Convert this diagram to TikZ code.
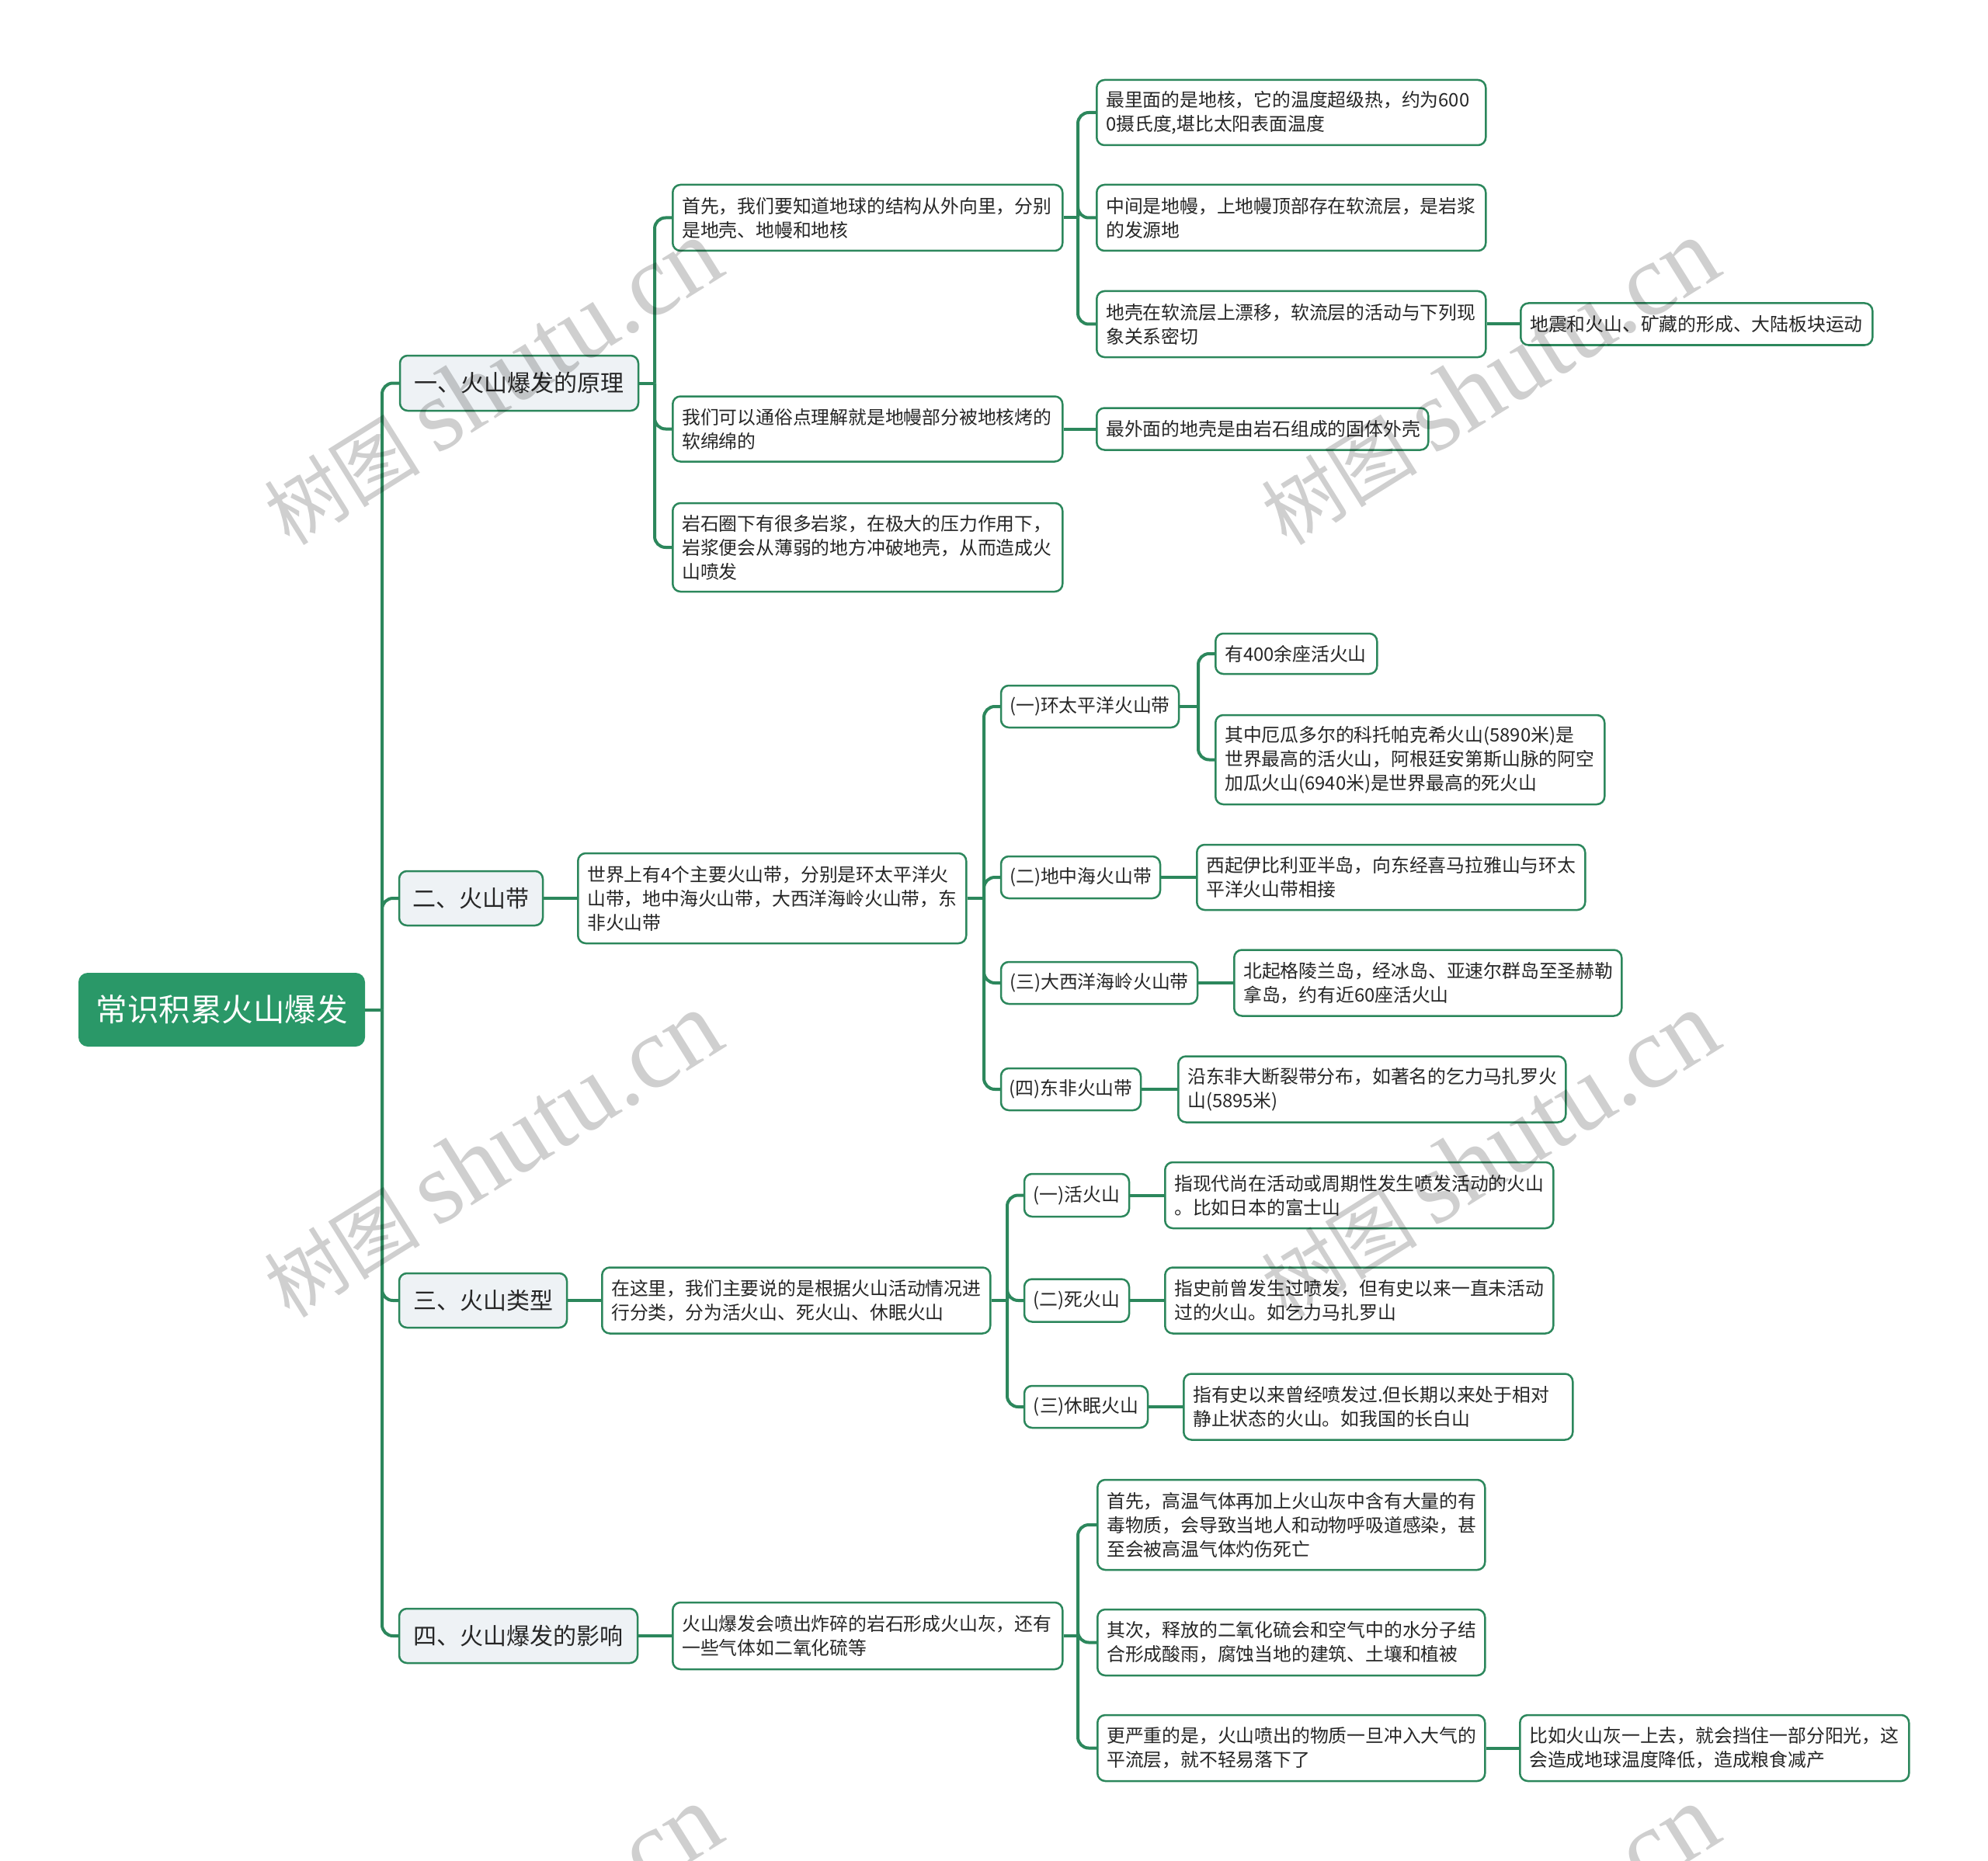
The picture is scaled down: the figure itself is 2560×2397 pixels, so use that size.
\documentclass[tikz,border=0pt]{standalone}
\usepackage{fontspec}
\setmainfont{Noto Sans CJK SC}
\newfontfamily\wmserif{Liberation Serif}
\definecolor{rootgreen}{RGB}{42,152,104}
\definecolor{linegreen}{RGB}{44,135,92}
\definecolor{topicfill}{RGB}{238,242,245}
\definecolor{txt}{RGB}{38,38,38}
\begin{document}
\begin{tikzpicture}[x=1pt,y=-1pt,
  rootbox/.style={rounded corners=12pt, fill=rootgreen, draw=none, text=white,
    font=\fontsize{40.5}{48}\selectfont, align=center, inner sep=0pt,
    minimum width=369pt, minimum height=95pt},
  topic/.style={rounded corners=10pt, fill=topicfill, draw=linegreen, line width=2.5pt,
    text=txt, font=\fontsize{30}{36}\selectfont, inner sep=0pt, align=center, minimum height=70pt},
  leaf/.style={rounded corners=10pt, fill=white, draw=linegreen, line width=2.5pt,
    text=txt, font=\fontsize{23.8}{31}\selectfont, inner xsep=12pt, inner ysep=0pt,
    align=left, anchor=west},
  tag/.style={rounded corners=10pt, fill=white, draw=linegreen, line width=2.5pt,
    text=txt, font=\fontsize{23.8}{31}\selectfont, inner sep=0pt, align=center,
    minimum height=54pt},
  link/.style={draw=linegreen, line width=4pt, rounded corners=14pt},
  wm/.style={text=black, text opacity=0.19, anchor=base west, rotate=32, inner sep=0pt}
]
\useasboundingbox (0,0) rectangle (2560,2397);

% root and topics
\node[rootbox] (root) at (285.5,1300.5) {常识积累火山爆发};
\node[topic, minimum width=307pt, minimum height=71pt] (b1) at (668.5,493.5) {一、火山爆发的原理};
\node[topic, minimum width=185pt] (b2) at (606.5,1157) {二、火山带};
\node[topic, minimum width=216pt] (b3) at (622,1675) {三、火山类型};
\node[topic, minimum width=307pt] (b4) at (667.5,2107) {四、火山爆发的影响};

% branch 1
\node[leaf, text width=478pt, minimum height=85pt] (n1a) at (865,280.5) {首先，我们要知道地球的结构从外向里，分别\\是地壳、地幔和地核};
\node[leaf, text width=478pt, minimum height=84pt] (n1b) at (865,552.5) {我们可以通俗点理解就是地幔部分被地核烤的\\软绵绵的};
\node[leaf, text width=478pt, minimum height=114pt] (n1c) at (865,705) {岩石圈下有很多岩浆，在极大的压力作用下，\\岩浆便会从薄弱的地方冲破地壳，从而造成火\\山喷发};
\node[leaf, text width=477pt, minimum height=84pt] (n1a1) at (1411,145) {最里面的是地核，它的温度超级热，约为600\\0摄氏度,堪比太阳表面温度};
\node[leaf, text width=477pt, minimum height=85pt] (n1a2) at (1411,280.5) {中间是地幔，上地幔顶部存在软流层，是岩浆\\的发源地};
\node[leaf, text width=477pt, minimum height=85pt] (n1a3) at (1411,417.5) {地壳在软流层上漂移，软流层的活动与下列现\\象关系密切};
\node[leaf, text width=429pt, minimum height=54pt] (n1a3x) at (1957,417.5) {地震和火山、矿藏的形成、大陆板块运动};
\node[leaf, text width=403pt, minimum height=54pt] (n1b1) at (1411,552.5) {最外面的地壳是由岩石组成的固体外壳};

% branch 2
\node[leaf, text width=476pt, minimum height=116pt] (n2) at (743,1157) {世界上有4个主要火山带，分别是环太平洋火\\山带，地中海火山带，大西洋海岭火山带，东\\非火山带};
\node[tag, minimum width=229pt] (n2a) at (1403.5,910) {(一)环太平洋火山带};
\node[leaf, text width=184pt, minimum height=52pt] (n2a1) at (1564,842) {有400余座活火山};
\node[leaf, text width=477pt, minimum height=115pt] (n2a2) at (1564,978.5) {其中厄瓜多尔的科托帕克希火山(5890米)是\\世界最高的活火山，阿根廷安第斯山脉的阿空\\加瓜火山(6940米)是世界最高的死火山};
\node[tag, minimum width=205pt] (n2b) at (1391.5,1130) {(二)地中海火山带};
\node[leaf, text width=476pt, minimum height=84pt] (n2b1) at (1540,1130) {西起伊比利亚半岛，向东经喜马拉雅山与环太\\平洋火山带相接};
\node[tag, minimum width=253pt] (n2c) at (1415.5,1266) {(三)大西洋海岭火山带};
\node[leaf, text width=475pt, minimum height=85pt] (n2c1) at (1588,1266) {北起格陵兰岛，经冰岛、亚速尔群岛至圣赫勒\\拿岛，约有近60座活火山};
\node[tag, minimum width=180pt] (n2d) at (1379,1403) {(四)东非火山带};
\node[leaf, text width=475pt, minimum height=85pt] (n2d1) at (1516,1403) {沿东非大断裂带分布，如著名的乞力马扎罗火\\山(5895米)};

% branch 3
\node[leaf, text width=476pt, minimum height=85pt] (n3) at (774,1675) {在这里，我们主要说的是根据火山活动情况进\\行分类，分为活火山、死火山、休眠火山};
\node[tag, minimum width=135pt, minimum height=55pt] (n3a) at (1386.5,1539.5) {(一)活火山};
\node[leaf, text width=476pt, minimum height=85pt] (n3a1) at (1499,1539.5) {指现代尚在活动或周期性发生喷发活动的火山\\。比如日本的富士山};
\node[tag, minimum width=135pt, minimum height=55pt] (n3b) at (1386.5,1675) {(二)死火山};
\node[leaf, text width=476pt, minimum height=85pt] (n3b1) at (1499,1675) {指史前曾发生过喷发，但有史以来一直未活动\\过的火山。如乞力马扎罗山};
\node[tag, minimum width=159pt] (n3c) at (1398.5,1812) {(三)休眠火山};
\node[leaf, text width=477pt, minimum height=85pt] (n3c1) at (1523,1812) {指有史以来曾经喷发过.但长期以来处于相对\\静止状态的火山。如我国的长白山};

% branch 4
\node[leaf, text width=478pt, minimum height=86pt] (n4) at (865,2107) {火山爆发会喷出炸碎的岩石形成火山灰，还有\\一些气体如二氧化硫等};
\node[leaf, text width=475pt, minimum height=116pt] (n4a) at (1412,1964) {首先，高温气体再加上火山灰中含有大量的有\\毒物质，会导致当地人和动物呼吸道感染，甚\\至会被高温气体灼伤死亡};
\node[leaf, text width=475pt, minimum height=85pt] (n4b) at (1412,2115.5) {其次，释放的二氧化硫会和空气中的水分子结\\合形成酸雨，腐蚀当地的建筑、土壤和植被};
\node[leaf, text width=475pt, minimum height=85pt] (n4c) at (1412,2251.5) {更严重的是，火山喷出的物质一旦冲入大气的\\平流层，就不轻易落下了};
\node[leaf, text width=477pt, minimum height=85pt] (n4c1) at (1956,2251.5) {比如火山灰一上去，就会挡住一部分阳光，这\\会造成地球温度降低，造成粮食减产};

% connectors
\draw[link] (root.east) -- (492,1300.5);
\foreach \c in {b1,b2,b3,b4} \draw[link] (492,1300.5) |- (\c.west);

\draw[link] (b1.east) -- (843,493.5);
\foreach \c in {n1a,n1b,n1c} \draw[link] (843,493.5) |- (\c.west);
\draw[link] (n1a.east) -- (1388,280.5);
\foreach \c in {n1a1,n1a2,n1a3} \draw[link] (1388,280.5) |- (\c.west);
\draw[link] (n1a3.east) -- (n1a3x.west);
\draw[link] (n1b.east) -- (n1b1.west);

\draw[link] (b2.east) -- (n2.west);
\draw[link] (n2.east) -- (1267,1157);
\foreach \c in {n2a,n2b,n2c,n2d} \draw[link] (1267,1157) |- (\c.west);
\draw[link] (n2a.east) -- (1543,910);
\foreach \c in {n2a1,n2a2} \draw[link] (1543,910) |- (\c.west);
\draw[link] (n2b.east) -- (n2b1.west);
\draw[link] (n2c.east) -- (n2c1.west);
\draw[link] (n2d.east) -- (n2d1.west);

\draw[link] (b3.east) -- (n3.west);
\draw[link] (n3.east) -- (1297,1675);
\foreach \c in {n3a,n3b,n3c} \draw[link] (1297,1675) |- (\c.west);
\draw[link] (n3a.east) -- (n3a1.west);
\draw[link] (n3b.east) -- (n3b1.west);
\draw[link] (n3c.east) -- (n3c1.west);

\draw[link] (b4.east) -- (n4.west);
\draw[link] (n4.east) -- (1388,2107);
\foreach \c in {n4a,n4b,n4c} \draw[link] (1388,2107) |- (\c.west);
\draw[link] (n4c.east) -- (n4c1.west);

% watermark
\foreach \wx/\wy [count=\i] in {373/705, 1657/705, 373/1700, 1657/1700, 373/2722, 1657/2722}
  \node[wm] (wm\i) at (\wx,\wy) {{\fontsize{101}{101}\selectfont 树图}\hspace{21pt}{\wmserif\fontsize{132}{132}\selectfont shutu.cn}};
\end{tikzpicture}
\end{document}
